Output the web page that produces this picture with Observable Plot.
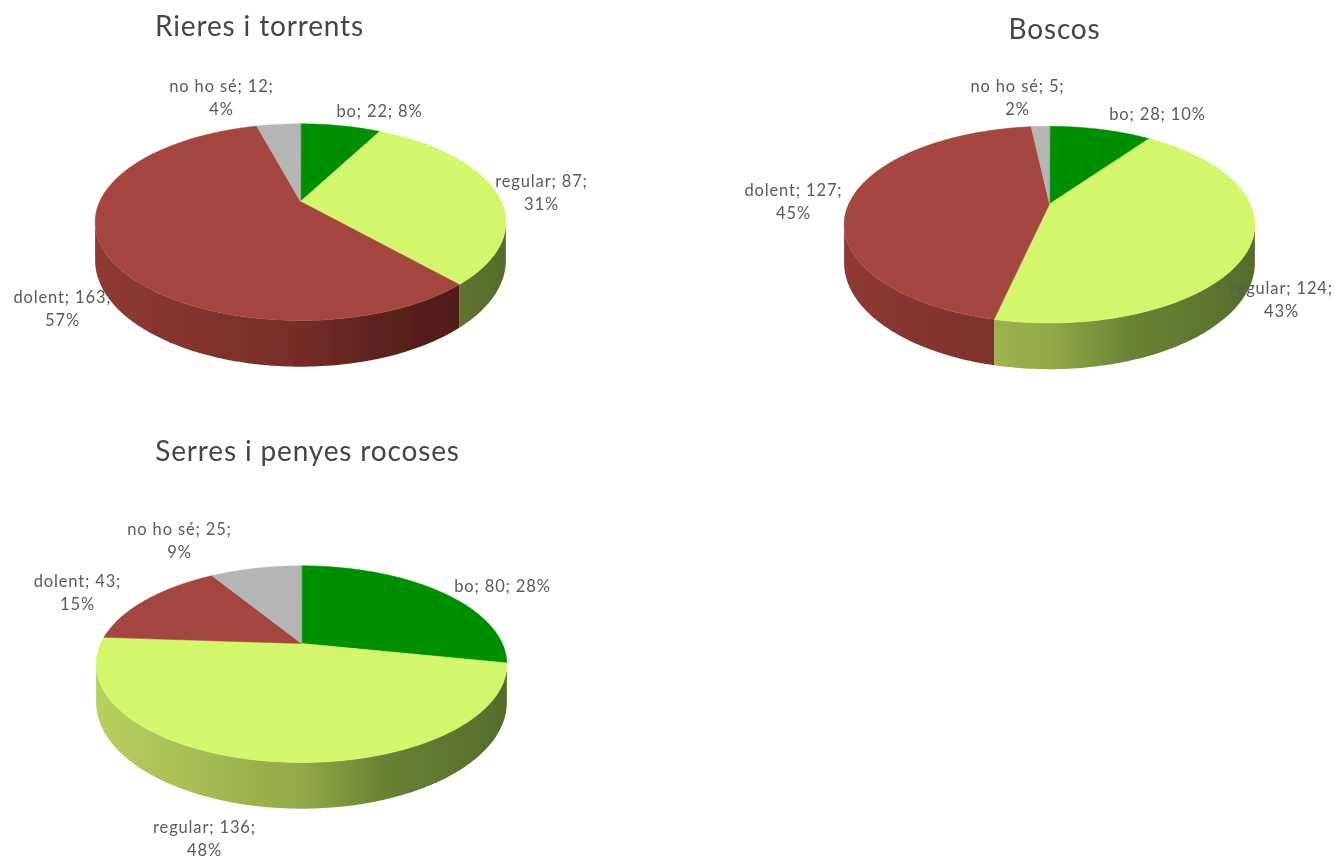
<!DOCTYPE html>
<html><head><meta charset="utf-8">
<script src="https://cdn.jsdelivr.net/npm/d3@7"></script>
<script src="https://cdn.jsdelivr.net/npm/@observablehq/plot@0.6"></script>
<style>html,body{margin:0;padding:0;background:#fff}svg{display:block}</style>
</head><body><div id="chart"></div>
<script>
const categories = ["bo", "regular", "dolent", "no ho sé"];
const rieres = [22, 87, 163, 12];
const boscos = [28, 124, 127, 5];
const serres = [80, 136, 43, 25];
const percRieres = ["8%", "31%", "57%", "4%"];
const percBoscos = ["10%", "43%", "45%", "2%"];
const percSerres = ["28%", "48%", "15%", "9%"];

const faceColors = ["#008f00", "#d3f66c", "#a5473f", "#b5b5b5"];
const wallStops = [0, 0.5, 0.7, 1];
const wallColors = [
  ["#006400", "#005400", "#004400", "#003800"],
  ["#b8d060", "#93a848", "#6a8234", "#566c2c"],
  ["#8f3a34", "#762c28", "#5c2220", "#4a1816"],
  ["#8a8a8a", "#777777", "#666666", "#555555"]
];

// layout
const pies = [
  {title: "Rieres i torrents", values: rieres, perc: percRieres, cx: 300, cy: 201, tx: 259, ty: 27,
   lines: [[379,109,1],[541,191,2],[62,307,2],[221,96,2]]},
  {title: "Boscos", values: boscos, perc: percBoscos, cx: 1049, cy: 203.5, tx: 1054, ty: 30,
   lines: [[1157,112,1],[1281,298,2],[793,200,2],[1017,96,2]]},
  {title: "Serres i penyes rocoses", values: serres, perc: percSerres, cx: 301, cy: 643, tx: 307, ty: 452,
   lines: [[502,584,1],[204,837,2],[77,591,2],[179,539,2]]}
];
const R = 200.8, r = 94, k = 0.21, side = 36.5, halfWidth = 206;
// the rim turns away from the viewer outside these bearings
const rimFrom = Math.acos(-k) * 180 / Math.PI, rimTo = 360 - rimFrom;

function project(p, deg) {
  const a = deg * Math.PI / 180, X = Math.sin(a), Y = Math.cos(a), w = 1 + k * Y;
  return {x: p.cx + R * X / w, y: p.cy - r * Y / w, depth: side / w};
}
function arc(p, from, to) {
  const steps = Math.max(2, Math.ceil(to - from));
  return d3.range(steps + 1).map(s => project(p, from + (to - from) * s / steps));
}

const walls = [], faces = [], labels = [], titles = [];
pies.forEach((p, pi) => {
  titles.push({x: p.tx, y: p.ty, text: p.title});
  const total = d3.sum(p.values);
  let start = 0;
  p.values.forEach((v, i) => {
    const end = start + v / total * 360;
    const face = `f${pi}-${i}`;
    faces.push({z: face, x: p.cx, y: p.cy, c: faceColors[i]});
    arc(p, start, end).forEach(q => faces.push({z: face, x: q.x, y: q.y, c: faceColors[i]}));
    const a0 = Math.max(start, rimFrom), a1 = Math.min(end, rimTo);
    if (a1 > a0) {
      const rim = arc(p, a0, a1), z = `w${pi}-${i}`, c = `url(#wall-${pi}-${i})`;
      rim.forEach(q => walls.push({z, x: q.x, y: q.y, c}));
      rim.reverse().forEach(q => walls.push({z, x: q.x, y: q.y + q.depth, c}));
    }
    const [lx, ly, n] = p.lines[i];
    const head = `${categories[i]}; ${v};`;
    labels.push({x: lx, y: ly, text: n === 1 ? `${head} ${p.perc[i]}` : `${head}\n${p.perc[i]}`});
    start = end;
  });
});

function gradients(index, {x}) {
  const defs = d3.create("svg:defs");
  pies.forEach((p, pi) => categories.forEach((_, i) => {
    const g = defs.append("linearGradient").attr("id", `wall-${pi}-${i}`)
      .attr("gradientUnits", "userSpaceOnUse")
      .attr("x1", x(p.cx - halfWidth)).attr("x2", x(p.cx + halfWidth)).attr("y1", 0).attr("y2", 0);
    wallStops.forEach((o, j) => g.append("stop").attr("offset", o).attr("stop-color", wallColors[i][j]));
  }));
  const blur = defs.append("filter").attr("id", "soft").attr("x", "-2%").attr("y", "-2%").attr("width", "104%").attr("height", "104%");
  blur.append("feGaussianBlur").attr("stdDeviation", 0.7);
  return defs.node();
}

const chart = Plot.plot({
  width: 1340, height: 860, margin: 0,
  x: {domain: [0, 1340], axis: null},
  y: {domain: [860, 0], axis: null},
  color: {type: "identity"},
  style: {background: "#fff", letterSpacing: "0.85px"},
  marks: [
    gradients,
    Plot.line(walls, {x: "x", y: "y", z: "z", fill: "c", curve: "linear-closed", stroke: null, filter: null}),
    Plot.line(faces, {x: "x", y: "y", z: "z", fill: "c", stroke: "c", strokeWidth: 0.5, curve: "linear-closed"}),
    Plot.text(labels, {x: "x", y: "y", text: "text", fontFamily: "Lato", fontSize: 16.5, lineHeight: 1.4, fill: "#5a5a5a", textAnchor: "middle"}),
    Plot.text(titles, {x: "x", y: "y", text: "text", fontFamily: "Lato", fontSize: 28, fill: "#454545", textAnchor: "middle"})
  ]
});
chart.setAttribute("filter", "url(#soft)");
document.getElementById("chart").append(chart);
</script></body></html>
